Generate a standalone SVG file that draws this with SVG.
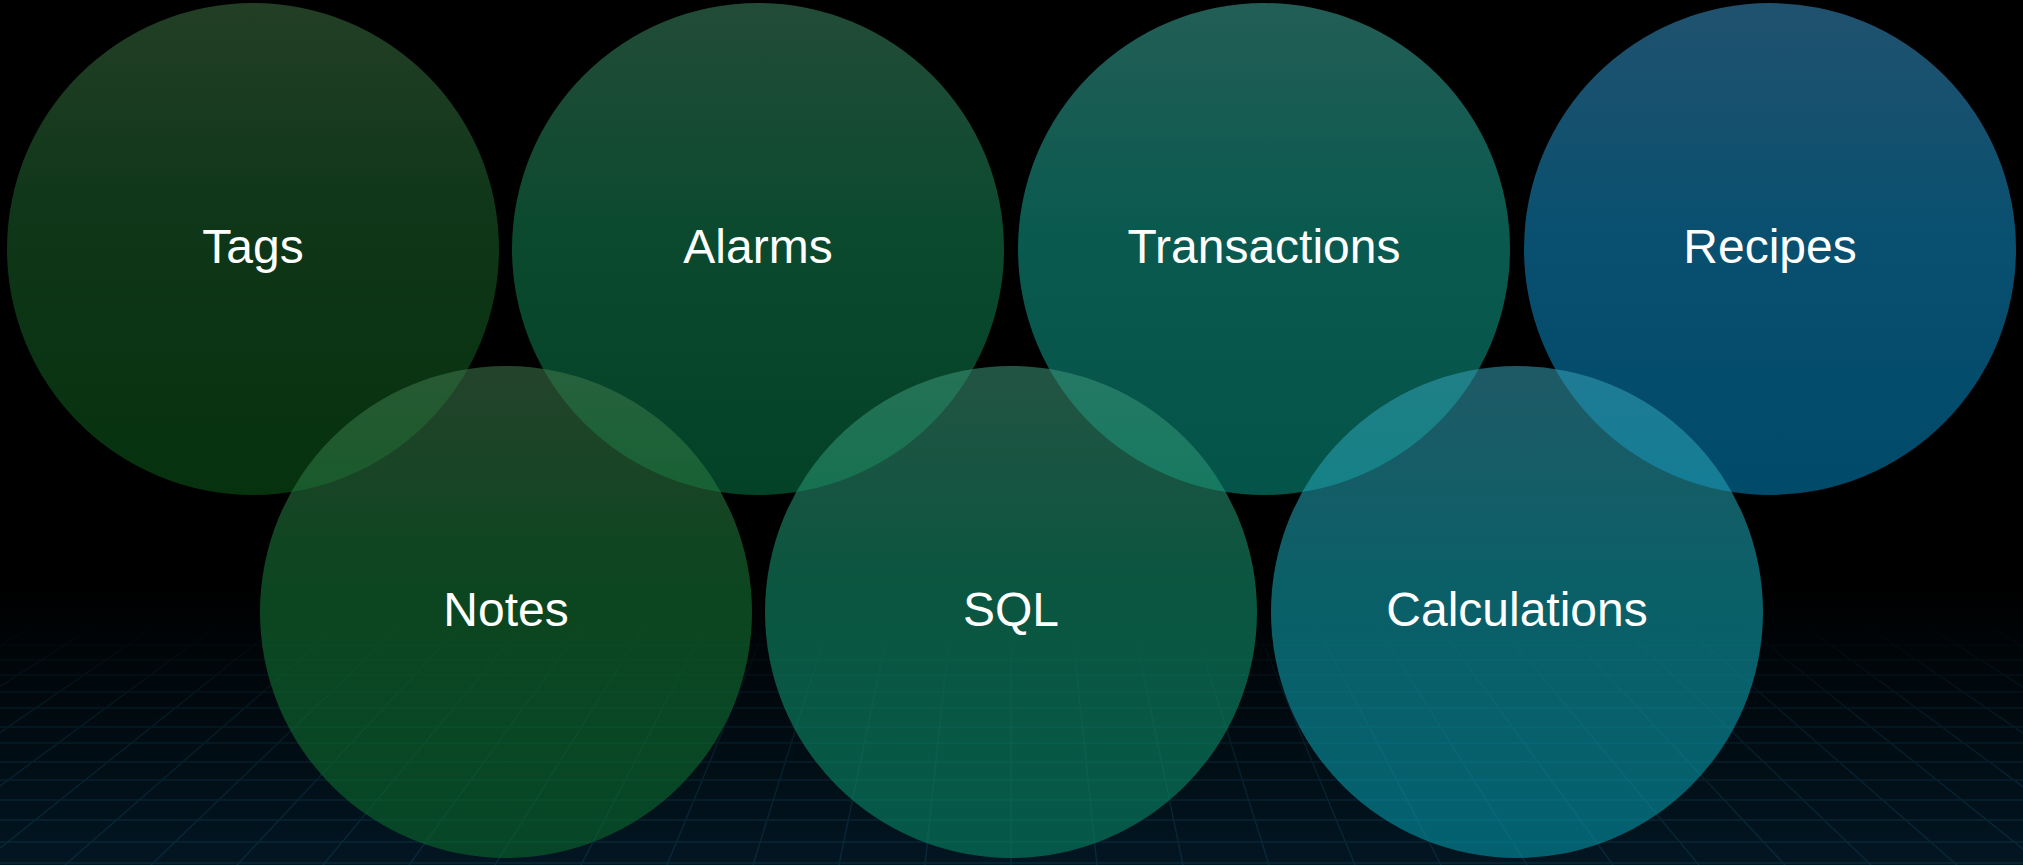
<svg xmlns="http://www.w3.org/2000/svg" width="2023" height="865" viewBox="0 0 2023 865">
<defs>
<style>
.c{fill-opacity:0.57}
.t{font-family:"Liberation Sans",Arial,sans-serif;font-size:48px;fill:#ffffff;text-anchor:middle}
.g{stroke:#0b2c3d;stroke-width:1.5;fill:none}
</style>
<linearGradient id="bg" x1="0" y1="0" x2="0" y2="1">
<stop offset="0" stop-color="#000000"/>
<stop offset="0.68" stop-color="#000000"/>
<stop offset="1" stop-color="#021622"/>
</linearGradient>
<linearGradient id="fade" x1="0" y1="615" x2="0" y2="865" gradientUnits="userSpaceOnUse">
<stop offset="0" stop-color="#fff" stop-opacity="0"/>
<stop offset="0.4" stop-color="#fff" stop-opacity="0.45"/>
<stop offset="1" stop-color="#fff" stop-opacity="0.85"/>
</linearGradient>
<mask id="gm" maskUnits="userSpaceOnUse" x="0" y="0" width="2023" height="865">
<rect x="0" y="0" width="2023" height="865" fill="url(#fade)"/>
</mask>
<linearGradient id="gTags" x1="0" y1="0" x2="0" y2="1"><stop offset="0" stop-color="#3d6f43"/><stop offset="0.45" stop-color="#195f2a"/><stop offset="1" stop-color="#0b5819"/></linearGradient>
<linearGradient id="gAlarms" x1="0" y1="0" x2="0" y2="1"><stop offset="0" stop-color="#3c8562"/><stop offset="0.45" stop-color="#158254"/><stop offset="1" stop-color="#057443"/></linearGradient>
<linearGradient id="gTrans" x1="0" y1="0" x2="0" y2="1"><stop offset="0" stop-color="#3ca597"/><stop offset="0.45" stop-color="#139e8c"/><stop offset="1" stop-color="#059380"/></linearGradient>
<linearGradient id="gRecipes" x1="0" y1="0" x2="0" y2="1"><stop offset="0" stop-color="#3890c1"/><stop offset="0.45" stop-color="#128cc4"/><stop offset="1" stop-color="#0082ba"/></linearGradient>
<linearGradient id="gNotes" x1="0" y1="0" x2="0" y2="1"><stop offset="0" stop-color="#3f764b"/><stop offset="0.45" stop-color="#157b38"/><stop offset="1" stop-color="#0a6c2c"/></linearGradient>
<linearGradient id="gSQL" x1="0" y1="0" x2="0" y2="1"><stop offset="0" stop-color="#3d9376"/><stop offset="0.45" stop-color="#139770"/><stop offset="1" stop-color="#078c68"/></linearGradient>
<linearGradient id="gCalc" x1="0" y1="0" x2="0" y2="1"><stop offset="0" stop-color="#359eb3"/><stop offset="0.45" stop-color="#13a8b6"/><stop offset="1" stop-color="#049aab"/></linearGradient>
</defs>
<rect x="0" y="0" width="2023" height="865" fill="url(#bg)"/>
<g id="grid" mask="url(#gm)">
<path class="g" d="M0 645H2023M0 660H2023M0 675H2023M0 692H2023M0 708H2023M0 727H2023M0 743H2023M0 762H2023M0 780H2023M0 800H2023M0 820H2023M0 842H2023M0 863H2023"/>
<path class="g" d="M18 600L-451 865M76 600L-365 865M135 600L-279 865M193 600L-193 865M252 600L-107 865M310 600L-21 865M368 600L65 865M427 600L151 865M485 600L237 865M544 600L323 865M602 600L409 865M661 600L495 865M719 600L581 865M777 600L667 865M836 600L753 865M894 600L839 865M953 600L925 865M1011 600L1011 865M1069 600L1097 865M1128 600L1183 865M1186 600L1269 865M1245 600L1355 865M1303 600L1441 865M1361 600L1527 865M1420 600L1613 865M1478 600L1699 865M1537 600L1785 865M1595 600L1871 865M1654 600L1957 865M1712 600L2043 865M1770 600L2129 865M1829 600L2215 865M1887 600L2301 865M1946 600L2387 865M2004 600L2473 865"/>
</g>
<g id="node-tags"><circle class="c" cx="253" cy="249" r="246" fill="url(#gTags)"/><text class="t" x="253" y="263">Tags</text></g>
<g id="node-alarms"><circle class="c" cx="758" cy="249" r="246" fill="url(#gAlarms)"/><text class="t" x="758" y="263">Alarms</text></g>
<g id="node-transactions"><circle class="c" cx="1264" cy="249" r="246" fill="url(#gTrans)"/><text class="t" x="1264" y="263">Transactions</text></g>
<g id="node-recipes"><circle class="c" cx="1770" cy="249" r="246" fill="url(#gRecipes)"/><text class="t" x="1770" y="263">Recipes</text></g>
<g id="node-notes"><circle class="c" cx="506" cy="612" r="246" fill="url(#gNotes)"/><text class="t" x="506" y="626">Notes</text></g>
<g id="node-sql"><circle class="c" cx="1011" cy="612" r="246" fill="url(#gSQL)"/><text class="t" x="1011" y="626">SQL</text></g>
<g id="node-calculations"><circle class="c" cx="1517" cy="612" r="246" fill="url(#gCalc)"/><text class="t" x="1517" y="626">Calculations</text></g>
<g id="connectors"></g>
</svg>
